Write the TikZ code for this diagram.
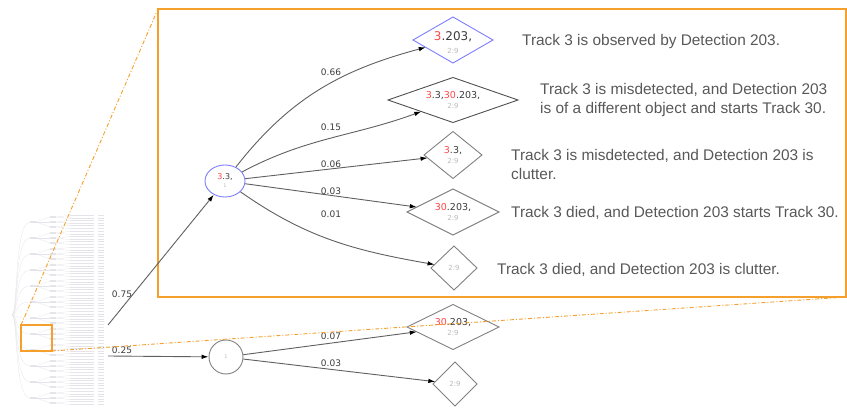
\documentclass[tikz,border=0pt]{standalone}
\usepackage{fontspec}
\newfontfamily\dvs{DejaVu Sans}
\newfontfamily\arl{Liberation Sans}
\usetikzlibrary{shapes.geometric,arrows.meta}
\definecolor{orng}{RGB}{245,160,45}
\definecolor{blu}{RGB}{125,125,255}
\definecolor{ngray}{RGB}{128,128,128}
\definecolor{d2gray}{RGB}{80,80,80}
\definecolor{dgray}{RGB}{60,60,60}
\definecolor{egray}{RGB}{95,95,95}
\definecolor{tgray}{RGB}{88,88,88}
\definecolor{lgray}{RGB}{185,185,185}
\definecolor{rd}{RGB}{255,70,70}
\definecolor{treec}{RGB}{228,228,234}
\newcommand\redt[1]{\textcolor{rd}{#1}}
\newcommand\subl[1]{{\fontsize{7}{7}\selectfont\color{lgray}#1}}
\begin{document}
\begin{tikzpicture}[x=1pt,y=1pt,
  treeln/.style={draw=treec,line width=0.3pt},
  treenode/.style={fill=treec},
  obox/.style={draw=orng,line width=1.15pt},
  dashdot/.style={draw=orng,line width=0.9pt,dash pattern=on 4pt off 2pt on 1pt off 2pt},
  dia/.style={diamond,draw=ngray,line width=0.9pt,inner sep=0pt,outer sep=0pt},
  dtext/.style={inner sep=0pt,align=center,font=\dvs\fontsize{9.5}{10}\selectfont,text=dgray},
  edge/.style={draw=egray,line width=0.9pt,-{Latex[length=7pt,width=4.5pt,color=black]}},
  lab/.style={font=\dvs\fontsize{9}{10}\selectfont,text=dgray,inner sep=0pt},
  desc/.style={font=\arl\fontsize{15.4}{19}\selectfont,text=tgray,anchor=west,inner sep=0pt,align=left}
]
\useasboundingbox (0,0) rectangle (847,-409);

% faint thumbnail tree
\foreach \i in {0,...,11} {
  \pgfmathsetmacro\ya{-222-16*\i}
  \draw[treeln] (12,-315) .. controls (18,-315) and (14,\ya) .. (30,\ya);
  \fill[treenode] (30,\ya-1) rectangle (36,\ya+1);
  \foreach \j in {-5,0,5} {
    \pgfmathsetmacro\yb{\ya+\j}
    \draw[treeln] (36,\ya) -- (50,\yb);
    \fill[treenode] (50,\yb-0.8) rectangle (56,\yb+0.8);
    \foreach \k in {-1.6,1.6} {
      \pgfmathsetmacro\yc{\yb+\k}
      \draw[treeln] (56,\yb) -- (70,\yc);
      \fill[treenode] (70,\yc-0.6) rectangle (76,\yc+0.6);
      \draw[treeln] (76,\yc) -- (88,\yc);
      \fill[treenode] (88,\yc-0.6) rectangle (94,\yc+0.6);
      \fill[treenode] (98,\yc-0.5) rectangle (104,\yc+0.5);
    }
  }
}

% boxes
\coordinate (bigA) at (158,-9);
\coordinate (bigB) at (846,-297);
\coordinate (smA) at (21,-325);
\coordinate (smB) at (52,-351);
\draw[obox] (smA) rectangle (smB);
\draw[obox] (bigA) rectangle (bigB);
\draw[dashdot] (smA) -- (bigA);

% nodes
\node[ellipse,draw=blu,line width=0.9pt,minimum width=40pt,minimum height=32pt,inner sep=0pt,
  align=center,font=\dvs\fontsize{8}{8}\selectfont,text=dgray] (e) at (225,-181)
  {\redt{3}.3,\\{\fontsize{5}{6}\selectfont\color{lgray}1}};
\node[circle,draw=ngray,line width=0.9pt,minimum size=34pt,inner sep=0pt,
  font=\dvs\fontsize{5}{5}\selectfont,text=lgray] (c) at (226,-357) {1};

\node[dia,draw=blu,minimum width=80pt,minimum height=46pt,
  label={[dtext,font=\dvs\fontsize{12}{13}\selectfont,yshift=-3pt]center:\redt{3}.203,\\\subl{2:9}}] (d1) at (453,-40) {};
\node[dia,draw=d2gray,minimum width=130pt,minimum height=45pt,
  label={[dtext]center:\redt{3}.3,\redt{30}.203,\\\subl{2:9}}] (d2) at (453,-100) {};
\node[dia,minimum width=58pt,minimum height=47pt,
  label={[dtext]center:\redt{3}.3,\\\subl{2:9}}] (d3) at (453,-155) {};
\node[dia,minimum width=92pt,minimum height=46pt,
  label={[dtext]center:\redt{30}.203,\\\subl{2:9}}] (d4) at (453,-212) {};
\node[dia,minimum width=46pt,minimum height=44pt,
  label={[dtext]center:\subl{2:9}}] (d5) at (454,-268) {};
\node[dia,minimum width=92pt,minimum height=45pt,
  label={[dtext]center:\redt{30}.203,\\\subl{2:9}}] (d6) at (453,-327) {};
\node[dia,minimum width=44pt,minimum height=44pt,
  label={[dtext]center:\subl{2:9}}] (d7) at (455,-384) {};

% edges
\coordinate (s75) at (108,-325);
\coordinate (s25) at (108,-356);
\draw[edge] (s75) -- (e);
\draw[edge] (s25) -- (c);
\draw[edge] (e) to[out=52,in=195] (d1);
\draw[edge] (e) to[out=28,in=200] (d2);
\draw[edge] (e) -- (d3);
\draw[edge] (e) -- (d4);
\draw[edge] (e) to[out=-35,in=170] (d5);
\draw[edge] (c) -- (d6);
\draw[edge] (c) -- (d7);

% edge labels
\node[lab] (l075) at (122,-294) {0.75};
\node[lab] (l025) at (122,-350) {0.25};
\node[lab] (l066) at (331,-72) {0.66};
\node[lab] (l015) at (331,-127) {0.15};
\node[lab] (l006) at (331,-164) {0.06};
\node[lab] (l003) at (331,-191) {0.03};
\node[lab] (l001) at (331,-214) {0.01};
\node[lab] (l007) at (331,-336) {0.07};
\node[lab] (l003b) at (331,-363) {0.03};

% descriptions
\node[desc] (t1) at (522,-42) {Track 3 is observed by Detection 203.};
\node[desc] (t2) at (540,-100.5) {Track 3 is misdetected, and Detection 203\\is of a different object and starts Track 30.};
\node[desc] (t3) at (511,-164.5) {Track 3 is misdetected, and Detection 203 is\\clutter.};
\node[desc] (t4) at (511,-213) {Track 3 died, and Detection 203 starts Track 30.};
\node[desc] (t5) at (497,-270) {Track 3 died, and Detection 203 is clutter.};

\draw[dashdot] (smB) -- (bigB);
\end{tikzpicture}
\end{document}
